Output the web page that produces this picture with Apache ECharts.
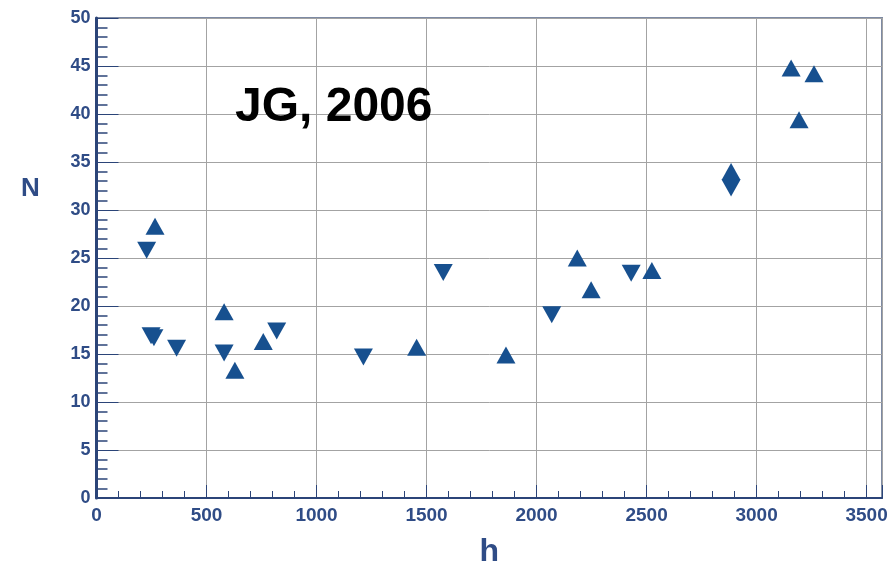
<!DOCTYPE html>
<html>
<head>
<meta charset="utf-8">
<title>N vs h</title>
<script src="https://cdn.jsdelivr.net/npm/echarts@6/dist/echarts.min.js"></script>
<style>
  html, body { margin: 0; padding: 0; background: #ffffff; }
  #chart { width: 893px; height: 565px; }
</style>
</head>
<body>
<div id="chart"></div>
<script>
// Upward-pointing markers
const upH = [266, 580, 629, 758, 1455, 1861, 2185, 2248, 2524, 2884, 3157, 3261, 3193];
const upN = [28.3, 19.4, 13.3, 16.3, 15.7, 14.9, 25.0, 21.7, 23.7, 34.0, 44.8, 44.2, 39.4];

// Downward-pointing markers
const downH = [228, 248, 261, 364, 580, 819, 1213, 1576, 2069, 2430, 2884];
const downN = [25.8, 16.9, 16.7, 15.6, 15.1, 17.4, 14.7, 23.5, 19.1, 23.4, 32.3];

const xTicks = [0, 500, 1000, 1500, 2000, 2500, 3000, 3500];
const yTicks = [0, 5, 10, 15, 20, 25, 30, 35, 40, 45, 50];

const pairs = (xs, ys) => xs.map((x, i) => [x, ys[i]]);

const labelColor = '#2f4c86';
const axisColor = '#2b4478';
const markColor = '#17508f';
const font = 'Liberation Sans, Arial, sans-serif';

const chart = echarts.init(document.getElementById('chart'), null, { renderer: 'canvas' });

chart.setOption({
  backgroundColor: '#ffffff',
  animation: false,
  title: {
    text: 'JG, 2006',
    left: 230,
    top: 79,
    textStyle: { fontSize: 48, fontWeight: 'bold', color: '#000000', fontFamily: font }
  },
  // Y-axis name sits above the middle of the axis, so it is placed as free text
  graphic: [{
    type: 'text',
    left: 21,
    top: 176,
    style: { text: 'N', fill: labelColor, font: 'bold 26px ' + font }
  }],
  grid: {
    left: 96.5, top: 18, right: 11, bottom: 67,
    outerBoundsMode: 'none',
    containLabel: false,
    show: true, borderColor: '#7d8aa3', borderWidth: 2, backgroundColor: '#ffffff'
  },
  xAxis: {
    type: 'value',
    min: 0, max: 3570, interval: 500,
    name: 'h',
    nameLocation: 'middle',
    nameGap: 38,
    nameTextStyle: { fontSize: 32, fontWeight: 'bold', color: labelColor, fontFamily: font },
    axisLine: { show: true, lineStyle: { color: axisColor, width: 2 } },
    axisTick: { show: true, inside: true, length: 13, lineStyle: { color: axisColor, width: 1 } },
    minorTick: { show: true, splitNumber: 5, length: 7, lineStyle: { color: axisColor, width: 1 } },
    splitLine: { show: true, lineStyle: { color: '#a3a3a3', width: 1 } },
    axisLabel: {
      fontSize: 19, fontWeight: 'bold', color: labelColor, fontFamily: font, margin: 8,
      formatter: v => (xTicks.indexOf(v) >= 0 ? String(v) : '')
    }
  },
  yAxis: {
    type: 'value',
    min: 0, max: 50, interval: 5,
    axisLine: { show: true, lineStyle: { color: axisColor, width: 3 } },
    axisTick: { show: true, inside: true, length: 22, lineStyle: { color: axisColor, width: 1 } },
    minorTick: { show: true, splitNumber: 5, length: 11, lineStyle: { color: axisColor, width: 1.5 } },
    splitLine: { show: true, lineStyle: { color: '#a3a3a3', width: 1 } },
    axisLabel: {
      fontSize: 18, fontWeight: 'bold', color: labelColor, fontFamily: font, margin: 6,
      formatter: v => (yTicks.indexOf(v) >= 0 ? String(v) : '')
    }
  },
  series: [
    {
      name: 'up',
      type: 'scatter',
      data: pairs(upH, upN),
      symbol: 'triangle',
      symbolSize: [19, 17],
      itemStyle: { color: markColor, opacity: 1 },
      z: 5
    },
    {
      name: 'down',
      type: 'scatter',
      data: pairs(downH, downN),
      symbol: 'triangle',
      symbolRotate: 180,
      symbolSize: [19, 17],
      itemStyle: { color: markColor, opacity: 1 },
      z: 5
    }
  ]
});
</script>
</body>
</html>
